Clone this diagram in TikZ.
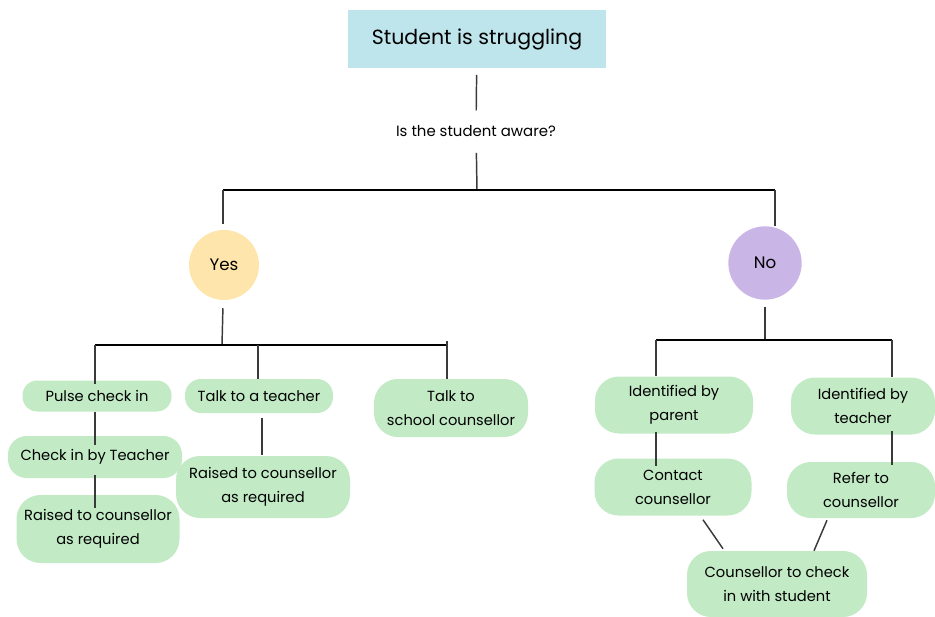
\documentclass[tikz,border=0pt]{standalone}
\usepackage{fontspec}
\setmainfont{Poppins}
\usetikzlibrary{calc}
\definecolor{titleblue}{HTML}{BFE5EC}
\definecolor{yesyellow}{HTML}{FEE5AB}
\definecolor{nopurple}{HTML}{CAB5E7}
\definecolor{boxgreen}{HTML}{C1EAC5}
\definecolor{linegray}{HTML}{3A3A3A}

\begin{document}
\begin{tikzpicture}[x=0.75pt,y=-0.75pt,
  box/.style={fill=boxgreen,rounded corners=18pt,align=center,inner sep=0pt,font=\fontsize{11}{18}\selectfont},
  answer/.style={circle,inner sep=0pt,font=\fontsize{12.5}{14}\selectfont},
  link/.style={draw=linegray,line width=1.1pt},
  bar/.style={draw=black,line width=1.9pt}]
\useasboundingbox (0,0) rectangle (935,617);
\node[fill=titleblue,minimum width=193.5pt,minimum height=43.5pt,font=\fontsize{15.4}{18}\selectfont] (title) at (477,39) {Student is struggling};
\node[inner sep=1pt,font=\fontsize{11.2}{13}\selectfont] (quest) at (476,131) {Is the student aware?};
\node[answer,fill=yesyellow,minimum size=52.5pt] (yes) at (224,265) {Yes};
\node[answer,fill=nopurple,minimum size=55pt] (no) at (765,263) {No};
\node[box,rounded corners=11pt,minimum width=111.75pt,minimum height=23.25pt] (pulse) at (97,396) {Pulse check in};
\node[box,rounded corners=14pt,minimum width=130.5pt,minimum height=31.5pt] (check) at (95,457) {Check in by Teacher};
\node[box,minimum width=122.25pt,minimum height=51pt] (raisedA) at (98,529) {Raised to counsellor\\as required};
\node[box,rounded corners=12pt,minimum width=111pt,minimum height=25.5pt] (talk) at (259,396) {Talk to a teacher};
\node[box,minimum width=130.5pt,minimum height=46.5pt] (raisedB) at (263,487) {Raised to counsellor\\as required};
\node[box,minimum width=115.5pt,minimum height=43.5pt] (school) at (451,408) {Talk to\\school counsellor};
\node[box,minimum width=118.5pt,minimum height=42.75pt] (parent) at (674,405) {Identified by\\parent};
\node[box,minimum width=108pt,minimum height=42.75pt] (teacher) at (863,406) {Identified by\\teacher};
\node[box,minimum width=117.75pt,minimum height=42.75pt] (contact) at (673,487) {Contact\\counsellor};
\node[box,minimum width=111pt,minimum height=42pt] (refer) at (861,490) {Refer to\\counsellor};
\node[box,minimum width=135pt,minimum height=49.5pt] (final) at (777,584) {Counsellor to check\\in with student};
\coordinate (topbar) at (477,190);
\coordinate (yesbar) at (223,190);
\coordinate (nobar) at (775,190);
\coordinate (leftbar) at (222,345);
\coordinate (pulsebar) at (95,345);
\coordinate (talkbar) at (258,345);
\coordinate (schoolbar) at (447,345);
\coordinate (rightbar) at (765,340);
\coordinate (parentbar) at (656,340);
\coordinate (teacherbar) at (892,340);
\draw[link,shorten <=5pt,shorten >=10pt] (title) -- (quest);
\draw[link,shorten <=11pt] (quest) -- (topbar);
\draw[bar] (yesbar) -- (nobar);
\draw[link,shorten >=4pt] (yesbar) -- (yesbar |- yes.north);
\draw[link] (nobar) -- (nobar |- no.north);
\draw[link,shorten <=6pt] (yes) -- (leftbar);
\draw[bar] (pulsebar) -- (schoolbar);
\draw[link] ($(schoolbar)+(0,-4)$) -- (schoolbar |- school.north);
\draw[link] (pulsebar) -- ($(pulsebar |- pulse.north)+(0,4)$);
\draw[link] (talkbar) -- (talkbar |- talk.north);
\draw[link] (pulsebar |- pulse.south) -- ($(pulsebar |- check.north)+(0,9)$);
\draw[link] ($(pulsebar |- check.south)+(0,-3)$) -- ($(pulsebar |- raisedA.north)+(0,13)$);
\draw[link] ($(talk.south)+(3,5)$) -- ($(talk.south |- raisedB.north)+(3,-1)$);
\draw[link,shorten <=5pt] (no) -- (rightbar);
\draw[bar] (parentbar) -- (teacherbar);
\draw[link] (parentbar) -- (parentbar |- parent.north);
\draw[link] (teacherbar) -- (teacherbar |- teacher.north);
\draw[link] ($(parentbar |- parent.south)+(0,-2)$) -- ($(parentbar |- contact.north)+(0,8)$);
\draw[link] ($(teacherbar |- teacher.south)+(0,-4)$) -- ($(teacherbar |- refer.north)+(0,3)$);
\draw[link] ($(contact.south)+(30,4)$) -- ($(final.north)+(-54,-2)$);
\draw[link] ($(refer.south)+(-34,2)$) -- ($(final.north)+(37,0)$);
\end{tikzpicture}
\end{document}
